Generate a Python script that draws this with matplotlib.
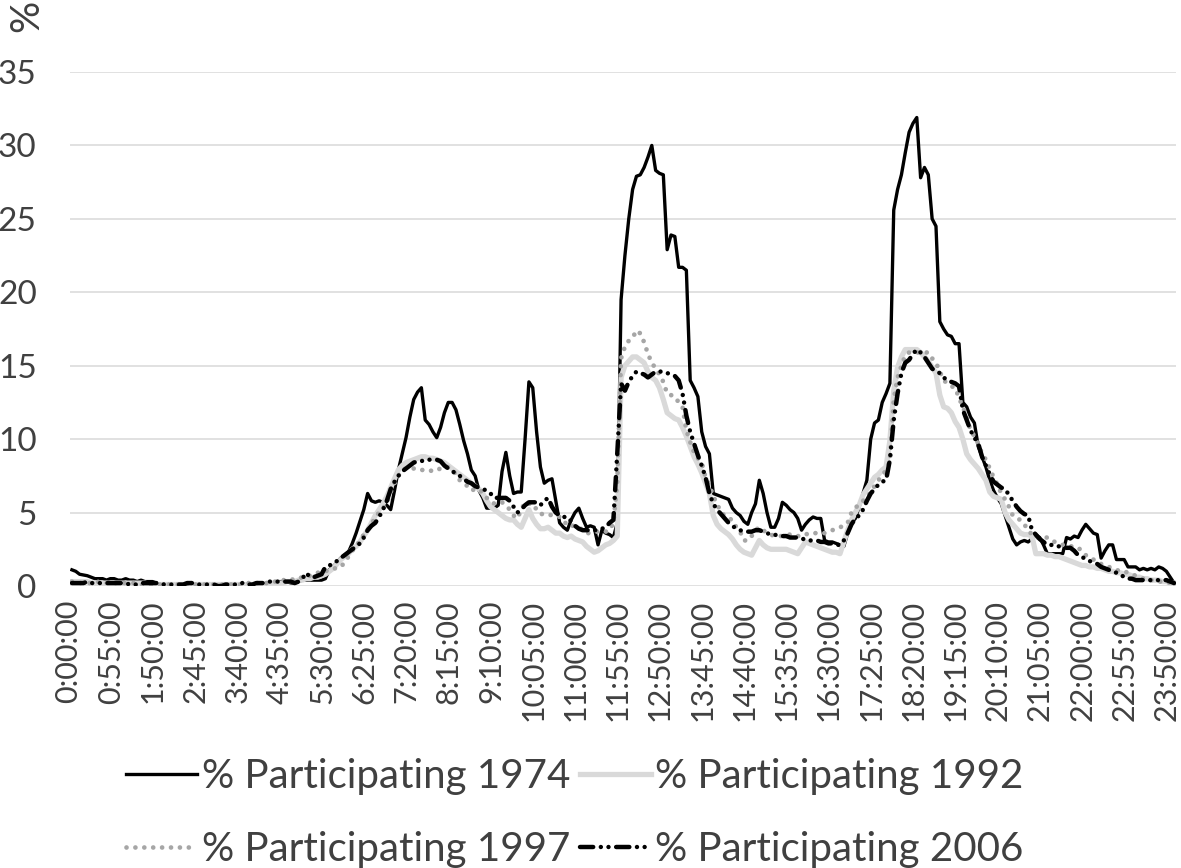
import matplotlib
matplotlib.use("Agg")
import matplotlib.pyplot as plt
import matplotlib.transforms as mtransforms
import numpy as np

# 5-minute time slots 0:00:00 .. 23:55:00
times = [f"{m // 60}:{m % 60:02d}:00" for m in range(0, 24 * 60, 5)]

p1974 = [
    1.1, 1.0, 0.8, 0.75, 0.7, 0.6, 0.5, 0.5, 0.5, 0.4, 0.5, 0.5,
    0.4, 0.4, 0.5, 0.4, 0.4, 0.3, 0.4, 0.3, 0.3, 0.3, 0.2, 0.1,
    0.0, 0.0, 0.0, 0.1, 0.0, 0.0, 0.0, 0.1, 0.1, 0.1, 0.1, 0.1,
    0.0, 0.1, 0.1, 0.0, 0.0, 0.0, 0.1, 0.0, 0.0, 0.0, 0.0, 0.0,
    0.1, 0.1, 0.1, 0.2, 0.2, 0.2, 0.3, 0.3, 0.3, 0.2, 0.2, 0.3,
    0.4, 0.4, 0.4, 0.4, 0.4, 0.4, 0.5, 1.1, 1.3, 1.6, 1.9, 2.1,
    2.3, 2.9, 3.6, 4.4, 5.2, 6.3, 5.8, 5.7, 5.8, 5.7, 5.5, 5.2,
    6.5, 7.9, 9.0, 10.1, 11.5, 12.7, 13.2, 13.5, 11.3, 11.0, 10.5, 10.1,
    10.8, 11.8, 12.5, 12.5, 12.0, 11.0, 9.9, 9.0, 7.9, 7.5, 6.5, 6.0,
    5.3, 5.3, 5.3, 5.5, 7.8, 9.1, 7.5, 6.3, 6.4, 6.4, 10.0, 13.9,
    13.5, 10.5, 8.1, 7.0, 7.2, 7.3, 5.8, 4.3, 4.0, 3.8, 4.5, 5.0,
    5.3, 4.6, 4.0, 4.1, 4.0, 2.8, 3.8, 3.6, 3.5, 3.3, 4.3, 19.5,
    22.5, 25.0, 27.0, 27.9, 28.0, 28.5, 29.2, 30.0, 28.3, 28.1, 28.0, 22.9,
    23.9, 23.8, 21.7, 21.7, 21.5, 14.0, 13.5, 12.9, 10.5, 9.5, 9.0, 6.3,
    6.2, 6.1, 6.0, 5.9, 5.3, 5.0, 4.8, 4.4, 4.2, 5.0, 5.6, 7.2,
    6.3, 5.0, 4.0, 4.0, 4.6, 5.7, 5.5, 5.2, 5.0, 4.6, 3.8, 4.2,
    4.5, 4.7, 4.6, 4.6, 3.1, 3.0, 3.0, 2.9, 2.8, 2.7, 3.6, 4.3,
    4.6, 5.4, 6.3, 7.2, 10.0, 11.1, 11.3, 12.5, 13.1, 13.8, 25.6, 27.0,
    28.0, 29.5, 30.9, 31.5, 31.9, 27.8, 28.5, 28.0, 25.0, 24.5, 18.0, 17.5,
    17.1, 17.0, 16.5, 16.5, 12.5, 12.2, 11.5, 11.1, 9.5, 8.8, 8.1, 7.2,
    6.5, 6.0, 5.6, 4.8, 4.0, 3.2, 2.8, 3.0, 3.1, 3.0, 3.2, 3.5,
    3.3, 2.8, 2.2, 2.2, 2.2, 2.2, 2.2, 3.3, 3.2, 3.4, 3.3, 3.8,
    4.2, 3.9, 3.6, 3.5, 1.9, 2.4, 2.8, 2.8, 1.8, 1.8, 1.8, 1.3,
    1.3, 1.3, 1.1, 1.2, 1.1, 1.2, 1.1, 1.3, 1.2, 1.0, 0.6, 0.2,
]

p1992 = [
    0.3, 0.3, 0.3, 0.3, 0.3, 0.2, 0.2, 0.2, 0.2, 0.2, 0.2, 0.2,
    0.2, 0.2, 0.2, 0.2, 0.2, 0.2, 0.2, 0.2, 0.1, 0.1, 0.1, 0.1,
    0.1, 0.1, 0.1, 0.1, 0.1, 0.1, 0.1, 0.1, 0.1, 0.1, 0.1, 0.1,
    0.1, 0.1, 0.1, 0.1, 0.1, 0.1, 0.1, 0.1, 0.1, 0.1, 0.1, 0.1,
    0.1, 0.1, 0.1, 0.2, 0.2, 0.2, 0.2, 0.2, 0.3, 0.3, 0.3, 0.4,
    0.4, 0.5, 0.5, 0.6, 0.6, 0.7, 0.8, 1.0, 1.2, 1.5, 1.8, 2.0,
    2.2, 2.5, 2.7, 3.0, 3.4, 3.8, 4.3, 4.8, 5.2, 5.6, 6.1, 6.7,
    7.3, 7.9, 8.2, 8.4, 8.5, 8.6, 8.7, 8.8, 8.8, 8.7, 8.7, 8.6,
    8.5, 8.4, 8.2, 8.0, 7.8, 7.6, 7.4, 7.2, 7.0, 6.8, 6.6, 6.3,
    5.8, 5.4, 5.2, 5.0, 4.8, 4.6, 4.5, 4.5, 4.2, 4.0, 4.6, 5.2,
    4.6, 4.2, 3.9, 3.9, 4.0, 3.8, 3.6, 3.6, 3.4, 3.3, 3.4, 3.2,
    3.1, 3.0, 2.7, 2.5, 2.3, 2.4, 2.6, 2.8, 2.9, 3.1, 3.4, 14.2,
    15.0, 15.3, 15.6, 15.6, 15.4, 15.2, 14.6, 14.2, 14.0, 13.5, 12.7, 11.8,
    11.6, 11.4, 11.3, 10.8, 10.2, 9.5, 8.8, 8.3, 7.7, 7.0, 6.3, 4.8,
    4.2, 3.9, 3.7, 3.5, 3.2, 2.8, 2.5, 2.3, 2.2, 2.1, 2.6, 3.1,
    2.8, 2.6, 2.5, 2.5, 2.5, 2.5, 2.5, 2.4, 2.3, 2.2, 2.6, 3.0,
    2.9, 2.8, 2.7, 2.6, 2.5, 2.4, 2.3, 2.3, 2.2, 3.0, 3.8, 4.5,
    5.0, 5.5, 6.2, 6.6, 7.0, 7.4, 7.6, 7.9, 8.1, 9.9, 13.3, 14.9,
    15.6, 16.1, 16.1, 16.1, 16.1, 15.9, 15.6, 15.3, 14.9, 14.5, 13.0, 12.2,
    12.1, 11.8, 11.2, 10.8, 10.0, 9.0, 8.6, 8.3, 8.0, 7.6, 7.2, 6.4,
    6.1, 6.0, 5.9, 5.0, 4.5, 4.2, 3.9, 3.6, 3.5, 3.5, 3.4, 2.2,
    2.2, 2.2, 2.1, 2.1, 2.0, 2.0, 1.9, 1.8, 1.7, 1.6, 1.5, 1.4,
    1.4, 1.3, 1.3, 1.2, 1.2, 1.1, 1.0, 1.0, 0.9, 0.9, 0.8, 0.8,
    0.7, 0.6, 0.6, 0.5, 0.5, 0.4, 0.4, 0.4, 0.3, 0.3, 0.2, 0.2,
]

p1997 = [
    0.3, 0.3, 0.2, 0.2, 0.2, 0.2, 0.2, 0.3, 0.2, 0.2, 0.2, 0.2,
    0.2, 0.2, 0.2, 0.2, 0.2, 0.2, 0.1, 0.1, 0.1, 0.1, 0.1, 0.1,
    0.1, 0.1, 0.1, 0.1, 0.1, 0.1, 0.1, 0.1, 0.1, 0.1, 0.1, 0.1,
    0.1, 0.1, 0.1, 0.1, 0.1, 0.1, 0.1, 0.1, 0.1, 0.1, 0.2, 0.2,
    0.2, 0.2, 0.2, 0.2, 0.3, 0.3, 0.3, 0.4, 0.4, 0.4, 0.5, 0.5,
    0.6, 0.7, 0.7, 0.8, 0.9, 1.0, 1.0, 1.1, 1.2, 1.2, 1.3, 1.6,
    2.0, 2.4, 2.7, 3.1, 3.5, 3.8, 4.2, 4.7, 5.0, 5.3, 5.6, 6.4,
    7.0, 7.5, 7.9, 8.0, 8.0, 8.0, 8.0, 7.9, 7.9, 7.9, 7.8, 7.9,
    8.0, 8.1, 8.1, 7.9, 7.6, 7.2, 7.0, 6.8, 6.5, 6.6, 6.6, 6.3,
    6.0, 5.8, 5.6, 5.6, 5.7, 5.5, 5.2, 4.8, 4.6, 5.2, 5.7, 5.6,
    5.6, 5.2, 4.9, 4.9, 4.9, 4.8, 4.8, 4.7, 4.5, 4.1, 4.1, 4.1,
    4.0, 3.8, 3.6, 3.6, 3.7, 3.7, 3.7, 3.7, 3.8, 4.3, 7.0, 15.5,
    16.3, 16.7, 16.9, 17.4, 17.2, 16.6, 15.8, 15.2, 14.8, 14.4, 13.9, 13.1,
    13.0, 12.9, 12.5, 12.2, 10.6, 9.8, 9.1, 8.7, 8.4, 7.4, 6.9, 6.1,
    5.6, 5.0, 4.8, 4.6, 4.5, 4.0, 3.7, 3.1, 3.1, 3.4, 3.8, 4.0,
    3.8, 3.6, 3.5, 3.4, 3.4, 3.4, 3.5, 3.5, 3.5, 3.4, 3.4, 3.5,
    3.6, 3.6, 3.6, 3.6, 3.6, 3.7, 3.8, 3.9, 4.0, 4.1, 4.3, 5.0,
    5.3, 5.6, 5.8, 6.0, 6.4, 6.8, 7.2, 7.5, 7.9, 8.5, 12.7, 14.2,
    15.0, 15.7, 15.9, 15.9, 15.9, 15.9, 15.9, 15.9, 15.5, 15.2, 14.6, 14.0,
    13.8, 13.6, 13.5, 12.8, 12.2, 11.5, 10.6, 10.2, 9.7, 9.0, 8.6, 8.0,
    7.4, 6.9, 6.3, 5.9, 5.4, 4.8, 4.6, 4.5, 4.2, 3.8, 3.5, 3.3,
    3.3, 3.3, 3.3, 3.1, 3.0, 2.9, 2.8, 2.8, 2.7, 2.7, 2.6, 2.4,
    2.1, 2.0, 1.8, 1.6, 1.5, 1.4, 1.3, 1.2, 1.1, 1.0, 1.0, 0.9,
    0.8, 0.7, 0.6, 0.5, 0.4, 0.4, 0.4, 0.3, 0.3, 0.3, 0.2, 0.2,
]

p2006 = [
    0.2, 0.2, 0.2, 0.2, 0.3, 0.2, 0.2, 0.2, 0.2, 0.2, 0.2, 0.2,
    0.2, 0.2, 0.2, 0.1, 0.1, 0.1, 0.2, 0.2, 0.2, 0.2, 0.2, 0.2,
    0.1, 0.1, 0.1, 0.1, 0.1, 0.1, 0.2, 0.2, 0.2, 0.1, 0.1, 0.1,
    0.1, 0.1, 0.0, 0.0, 0.1, 0.1, 0.1, 0.1, 0.2, 0.2, 0.1, 0.1,
    0.2, 0.2, 0.2, 0.3, 0.3, 0.3, 0.3, 0.3, 0.3, 0.3, 0.2, 0.3,
    0.5, 0.9, 0.6, 0.6, 0.7, 0.8, 1.3, 1.4, 1.5, 1.7, 1.9, 2.1,
    2.3, 2.5, 2.7, 2.9, 3.3, 3.8, 4.1, 4.3, 4.7, 5.2, 5.8, 6.6,
    7.1, 7.5, 7.8, 8.0, 8.2, 8.4, 8.5, 8.5, 8.6, 8.6, 8.6, 8.6,
    8.5, 8.2, 8.0, 7.8, 7.7, 7.5, 7.3, 7.1, 7.0, 6.8, 6.7, 6.6,
    6.5, 6.3, 6.0, 6.0, 6.0, 6.0, 5.8, 5.4, 5.0, 5.2, 5.5, 5.7,
    5.7, 5.7, 5.5, 5.8, 6.0, 5.4, 5.0, 4.8, 4.7, 4.7, 4.4, 4.1,
    3.9, 3.8, 3.8, 3.8, 3.8, 3.8, 3.9, 4.0, 4.3, 4.5, 9.0, 13.8,
    13.3, 13.9, 14.3, 14.6, 14.5, 14.4, 14.2, 14.4, 14.6, 14.6, 14.6, 14.5,
    14.4, 14.3, 14.0, 13.1, 11.6, 10.5, 9.7, 8.9, 8.2, 7.4, 6.3, 5.6,
    5.2, 4.9, 4.6, 4.3, 4.1, 3.9, 3.8, 3.7, 3.7, 3.7, 3.8, 3.8,
    3.7, 3.6, 3.5, 3.5, 3.4, 3.4, 3.4, 3.3, 3.3, 3.3, 3.2, 3.2,
    3.1, 3.1, 3.1, 3.0, 3.0, 2.9, 2.9, 2.8, 2.8, 3.1, 3.6, 4.2,
    4.6, 4.8, 5.2, 5.8, 6.3, 6.6, 6.9, 7.1, 7.2, 8.6, 11.3, 13.1,
    14.5, 15.2, 15.4, 15.8, 16.1, 15.9, 15.6, 15.2, 14.8, 14.6, 14.5, 14.2,
    14.0, 13.9, 13.8, 13.6, 12.0, 11.3, 10.6, 10.1, 9.7, 8.8, 8.2, 7.6,
    7.1, 6.9, 6.7, 6.6, 6.2, 5.8, 5.4, 5.1, 4.9, 4.8, 3.8, 3.5,
    3.2, 3.0, 2.8, 2.8, 2.7, 2.7, 2.6, 2.6, 2.6, 2.4, 2.1, 2.0,
    1.8, 1.7, 1.6, 1.5, 1.3, 1.2, 1.1, 1.0, 0.9, 0.8, 0.6, 0.5,
    0.5, 0.4, 0.4, 0.4, 0.4, 0.4, 0.4, 0.4, 0.4, 0.4, 0.3, 0.2,
]

labels = ["% Participating 1974", "% Participating 1992",
          "% Participating 1997", "% Participating 2006"]
y_ticks = [0, 5, 10, 15, 20, 25, 30, 35]
tick_step = 11

plt.rcParams["font.family"] = ["Lato", "DejaVu Sans"]
plt.rcParams["lines.scale_dashes"] = False

TXT = "#404040"
fig = plt.figure(figsize=(11.81, 8.68), dpi=100)
ax = fig.add_axes([70 / 1181, 1 - 586 / 868, 1106 / 1181, (586 - 72) / 868])

x = np.arange(len(times))
h74, = ax.plot(x, p1974, color="black", lw=2.4, solid_joinstyle="round",
               label=labels[0], zorder=3)
h92, = ax.plot(x, p1992, color="#d9d9d9", lw=3.8, solid_joinstyle="round",
               label=labels[1], zorder=4)
h97, = ax.plot(x, p1997, color="#a6a6a6", lw=3.4, linestyle=(0, (0.01, 6.4)),
               dash_capstyle="round", label=labels[2], zorder=5)
h06, = ax.plot(x, p2006, color="black", lw=3.2,
               linestyle=(0, (9.5, 5.5, 0.01, 5.5, 0.01, 5.5)),
               dash_capstyle="round", label=labels[3], zorder=6)

ax.set_xlim(-0.5, len(times) - 0.5)
ax.set_ylim(0, 35)
ax.set_yticks(y_ticks)
ax.yaxis.grid(True, color="#d9d9d9", lw=1.1)
ax.set_axisbelow(True)
for s in ax.spines.values():
    s.set_visible(False)

tick_pos = x[::tick_step]
ax.set_xticks(tick_pos)
ax.set_xticklabels([times[i] for i in tick_pos], rotation=90,
                   fontsize=22, color=TXT)
ax.tick_params(axis="x", length=0, pad=10)
ax.tick_params(axis="y", length=0, pad=24, labelsize=24, labelcolor=TXT)
for lab in ax.get_yticklabels():
    lab.set_horizontalalignment("right")
# nudge rotated time labels slightly left so the last one stays inside
nudge = mtransforms.ScaledTranslation(-2.5 / 72, 0, fig.dpi_scale_trans)
for lab in ax.get_xticklabels():
    lab.set_transform(lab.get_transform() + nudge)

fig.text(27 / 1181, 1 - 16 / 868, "%", rotation=90, ha="center", va="center",
         fontsize=29, color=TXT)

# row-wise order as in the reference: 1974, 1992 / 1997, 2006
handles = [h74, h97, h92, h06]
leg = fig.legend(handles, [h.get_label() for h in handles],
                 loc="center", bbox_to_anchor=(575 / 1181, 1 - 813 / 868),
                 ncol=2, frameon=False, fontsize=29, labelcolor=TXT,
                 handlelength=1.75, handletextpad=0.12, columnspacing=0.25,
                 labelspacing=0.88, borderpad=0.0)

fig.savefig("out.png", dpi=100)
